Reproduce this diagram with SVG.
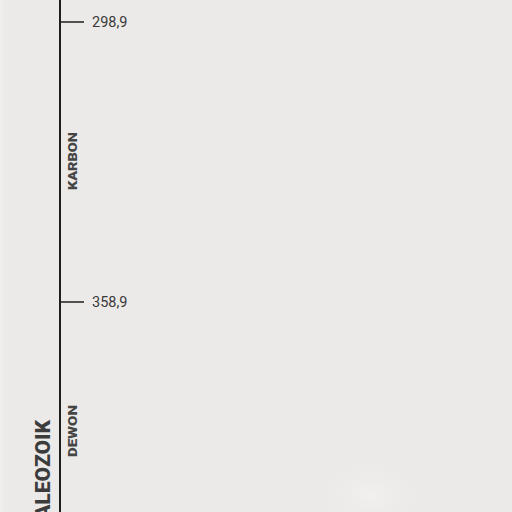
<svg xmlns="http://www.w3.org/2000/svg" width="512" height="512" viewBox="0 0 512 512">
<style>
.axis{stroke:#1e1e1e;stroke-width:2;fill:none}
.tick{stroke:#1e1e1e;stroke-width:1.5}
.val{font-family:"Roboto","Liberation Sans",sans-serif;font-size:14.5px;fill:#3a3a3a}
.period{font-family:"Roboto","Liberation Sans",sans-serif;font-weight:900;font-size:13px;fill:#454545}
.era{font-family:"Roboto","Liberation Sans",sans-serif;font-weight:900;font-size:20px;fill:#3c3c3c}
</style>
<defs>
<radialGradient id="glow" cx="0.5" cy="0.5" r="0.5">
<stop offset="0" stop-color="#f2f1ef" stop-opacity="0.9"/>
<stop offset="1" stop-color="#ebeae8" stop-opacity="0"/>
</radialGradient>
</defs>
<rect width="512" height="512" fill="#ebeae8"/>
<rect x="0" y="0" width="3" height="512" fill="#efeeec"/>
<ellipse cx="370" cy="495" rx="60" ry="40" fill="url(#glow)"/>
<g id="axis">
<line class="axis" x1="60" y1="0" x2="60" y2="512"/>
</g>
<g id="tick-298">
<line class="tick" x1="60" y1="22" x2="84" y2="22"/>
<text class="val" x="92" y="27">298,9</text>
</g>
<g id="tick-358">
<line class="tick" x1="60" y1="302" x2="84" y2="302"/>
<text class="val" x="92" y="307">358,9</text>
</g>
<g id="karbon">
<text class="period" transform="translate(77,190) rotate(-90)" textLength="58" lengthAdjust="spacingAndGlyphs">KARBON</text>
</g>
<g id="dewon">
<text class="period" transform="translate(77,457) rotate(-90)" textLength="52" lengthAdjust="spacingAndGlyphs">DEWON</text>
</g>
<g id="paleozoik">
<text class="era" transform="translate(50,531) rotate(-90)" textLength="111" lengthAdjust="spacingAndGlyphs">PALEOZOIK</text>
</g>
</svg>
